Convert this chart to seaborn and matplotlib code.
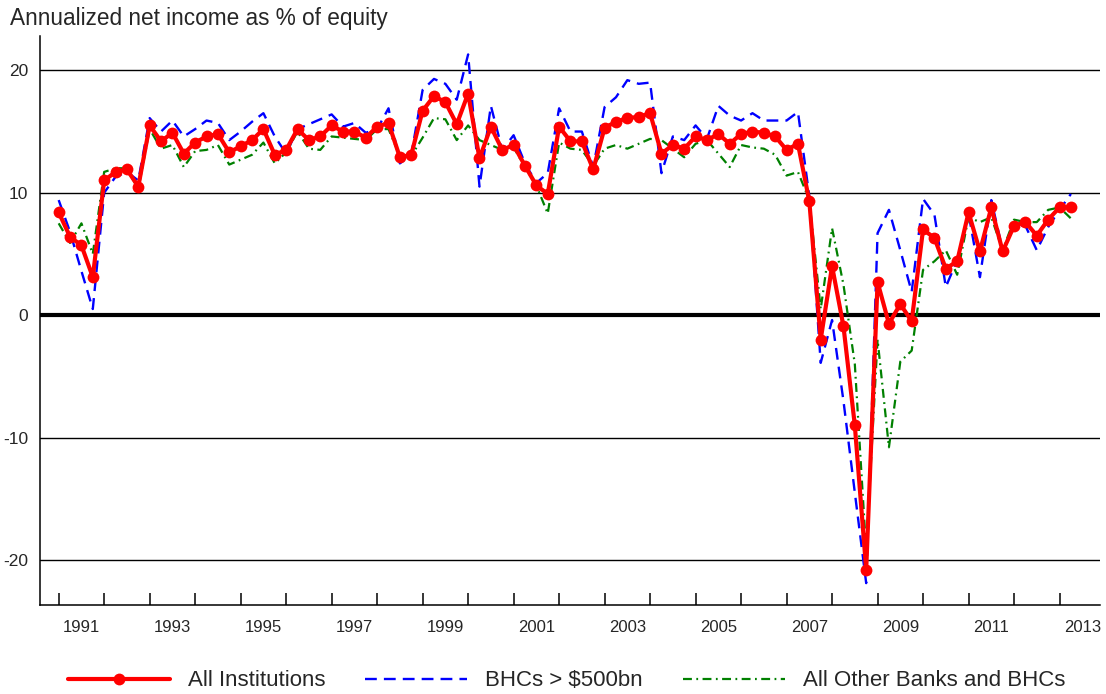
import numpy as np
import pandas as pd
import seaborn as sns
from matplotlib import pyplot as plt

# quarterly data, 1991Q1 - 2013Q2
quarters = pd.period_range("1991Q1", "2013Q2", freq="Q")

all_institutions = [
    8.4, 6.4, 5.7, 3.1, 11.0, 11.7, 11.9, 10.5, 15.5, 14.2,
    14.9, 13.2, 14.1, 14.6, 14.8, 13.3, 13.8, 14.3, 15.2, 13.1,
    13.5, 15.2, 14.3, 14.6, 15.5, 15.0, 15.0, 14.5, 15.4, 15.7,
    12.9, 13.1, 16.7, 17.9, 17.4, 15.6, 18.1, 12.8, 15.4, 13.5,
    13.9, 12.2, 10.6, 9.9, 15.4, 14.2, 14.2, 11.9, 15.3, 15.8,
    16.1, 16.2, 16.5, 13.2, 13.9, 13.6, 14.6, 14.3, 14.8, 14.0,
    14.8, 15.0, 14.9, 14.6, 13.5, 14.0, 9.3, -2.0, 4.0, -0.9,
    -9.0, -20.8, 2.7, -0.7, 0.9, -0.5, 7.0, 6.3, 3.8, 4.4,
    8.4, 5.2, 8.8, 5.2, 7.3, 7.6, 6.5, 7.8, 8.8, 8.8,
]

bhcs_500bn = [
    9.4, 6.8, 3.6, 0.5, 10.0, 11.3, 11.7, 11.0, 16.1, 15.0,
    15.9, 14.6, 15.2, 15.9, 15.7, 14.3, 15.0, 15.8, 16.5, 14.6,
    13.2, 15.2, 15.6, 16.0, 16.4, 15.4, 15.7, 14.9, 15.2, 16.9,
    12.4, 13.1, 18.4, 19.3, 18.9, 17.6, 21.3, 10.5, 17.1, 13.5,
    14.7, 12.4, 10.8, 11.6, 16.9, 15.0, 15.0, 12.1, 17.0, 17.8,
    19.2, 18.9, 19.0, 11.6, 14.6, 14.3, 15.5, 14.4, 17.1, 16.3,
    15.9, 16.5, 15.9, 15.9, 15.9, 16.6, 9.7, -3.9, -0.4, -7.0,
    -14.5, -21.9, 6.7, 8.6, 5.3, 1.9, 9.5, 8.2, 2.3, 4.5,
    8.3, 3.1, 9.4, 5.3, 7.3, 7.3, 5.3, 7.2, 8.6, 9.9,
]

all_other = [
    7.5, 5.9, 7.5, 5.0, 11.7, 12.0, 12.0, 10.3, 15.2, 13.6,
    13.9, 12.1, 13.4, 13.5, 13.9, 12.3, 12.7, 13.1, 14.1, 12.4,
    13.3, 15.0, 13.6, 13.5, 14.6, 14.5, 14.4, 14.3, 15.2, 15.2,
    13.0, 13.0, 14.5, 16.1, 16.0, 14.3, 15.5, 14.3, 13.9, 13.5,
    13.7, 12.1, 10.6, 8.3, 14.1, 13.6, 13.5, 12.2, 13.6, 13.9,
    13.6, 14.0, 14.4, 14.3, 13.6, 12.9, 14.0, 14.3, 13.2, 12.1,
    13.9, 13.7, 13.6, 13.1, 11.4, 11.7, 9.4, 0.5, 7.1, 2.5,
    -4.0, -19.3, -2.0, -10.8, -3.8, -2.9, 3.7, 4.4, 5.3, 3.3,
    8.0, 7.6, 8.0, 5.3, 7.8, 7.6, 7.6, 8.6, 8.8, 7.9,
]

series_names = ["All Institutions", "BHCs > $500bn", "All Other Banks and BHCs"]
year_ticks = list(range(1991, 2014))
year_labels = [str(y) for y in range(1991, 2014, 2)]
y_ticks = [-20, -10, 0, 10, 20]

df = pd.DataFrame({
    "t": quarters.year + (quarters.quarter - 1) / 4,
    series_names[0]: all_institutions,
    series_names[1]: bhcs_500bn,
    series_names[2]: all_other,
})

sns.set_style("white")
plt.rcParams["font.family"] = ["Liberation Sans", "DejaVu Sans"]
plt.rcParams["axes.unicode_minus"] = False

fig = plt.figure(figsize=(11.06, 6.94), dpi=100)
ax = fig.add_axes([0.0366, 0.128, 0.958, 0.820])

for y in y_ticks:
    if y == 0:
        ax.axhline(0, color="black", lw=3, zorder=1)
    else:
        ax.axhline(y, color="black", lw=1.0, zorder=1)

sns.lineplot(data=df, x="t", y=series_names[1], ax=ax, color="#0000ff",
             lw=1.7, linestyle=(0, (5, 3)), label=series_names[1], zorder=2)
sns.lineplot(data=df, x="t", y=series_names[2], ax=ax, color="#008000",
             lw=1.6, linestyle=(0, (4, 2, 0.8, 2)), label=series_names[2], zorder=2)
sns.lineplot(data=df, x="t", y=series_names[0], ax=ax, color="#ff0000",
             lw=3, marker="o", markersize=8.5, markeredgewidth=0,
             label=series_names[0], zorder=3)

ax.set_xlim(1990.6, 2013.89)
ax.set_ylim(-23.7, 22.8)
ax.set_xlabel("")
ax.set_ylabel("")

ax.set_xticks(year_ticks)
ax.set_xticklabels([])
ax.set_xticks([int(s) + 0.5 for s in year_labels], minor=True)
ax.set_xticklabels(year_labels, minor=True)
ax.tick_params(axis="x", which="major", direction="in", length=8.5, width=1.1,
               color="black", bottom=True)
ax.tick_params(axis="x", which="minor", length=0, pad=11, labelsize=12)
ax.set_yticks(y_ticks)
ax.tick_params(axis="y", length=0, pad=9, labelsize=12.5, left=False)

for side in ["top", "right"]:
    ax.spines[side].set_visible(False)
for side in ["left", "bottom"]:
    ax.spines[side].set_color("black")
    ax.spines[side].set_linewidth(1.1)

fig.text(0.009, 1 - 18 / 694, "Annualized net income as % of equity",
         ha="left", va="center", fontsize=16.3)

handles, labels = ax.get_legend_handles_labels()
order = [labels.index(n) for n in series_names]
ax.get_legend().remove()
fig.legend([handles[i] for i in order], [labels[i] for i in order],
           loc="center", bbox_to_anchor=(0.512, 0.019), ncol=3, frameon=False,
           fontsize=16, handlelength=4.6, handletextpad=0.8, columnspacing=1.8)

fig.savefig("out.png", dpi=100)
